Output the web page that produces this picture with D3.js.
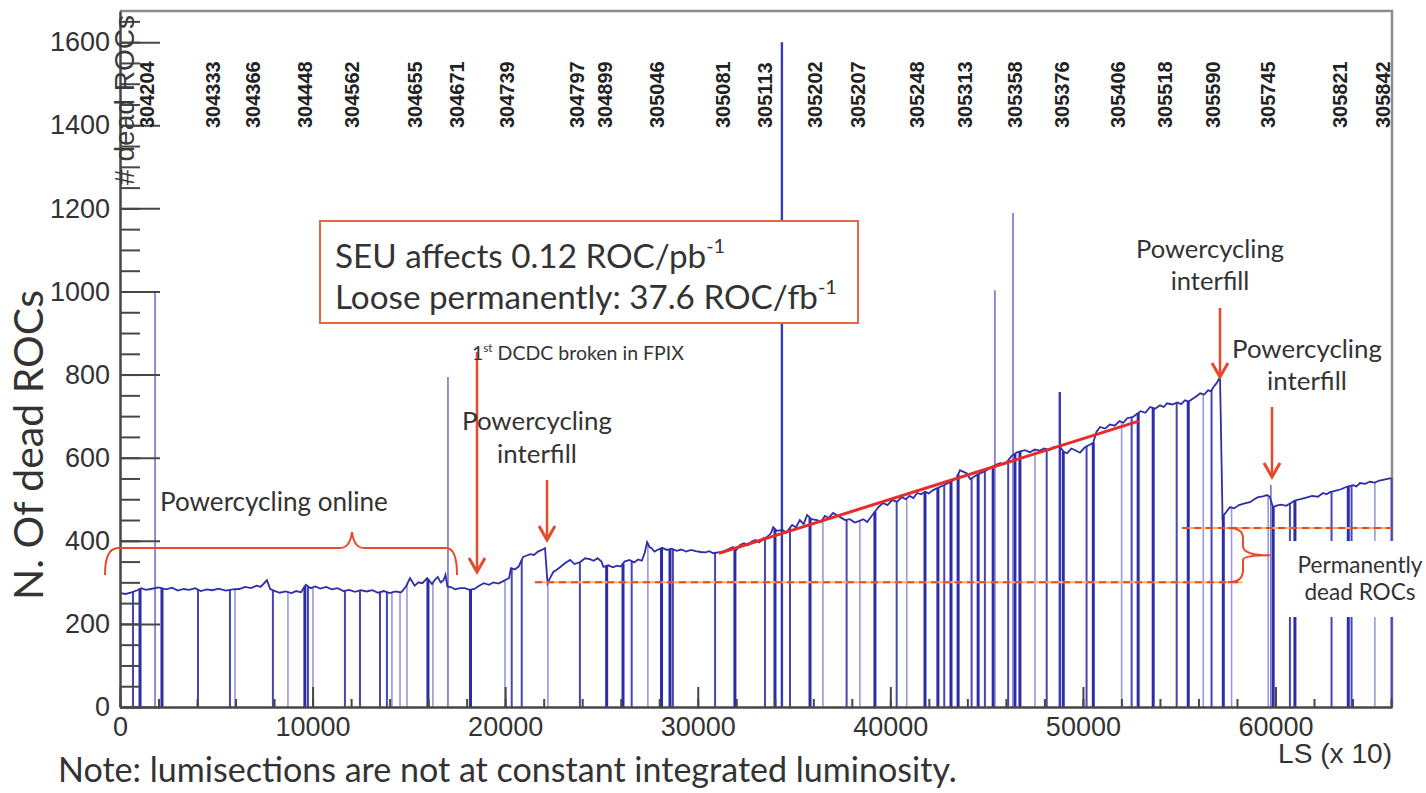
<!DOCTYPE html>
<html>
<head>
<meta charset="utf-8">
<script src="https://cdn.jsdelivr.net/npm/d3@7/dist/d3.min.js"></script>
<style>
	body { margin: 0; background: #fff; }
	svg { display: block; }
</style>
</head>
<body>
<div id="wrapper"></div>
<script>
// run numbers printed along the top, with the LS where each run starts
const runLabels = [ '304204', '304333', '304366', '304448', '304562', '304655', '304671', '304739', '304797', '304899',
	'305046', '305081', '305113', '305202', '305207', '305248', '305313', '305358', '305376', '305406', '305518',
	'305590', '305745', '305821', '305842' ];
const runStarts = [ 1400, 4830, 6900, 9600, 12050, 15300, 17500, 20100, 23730, 25180, 27880, 31300, 33490, 36090, 38320,
	41380, 43870, 46470, 48910, 51820, 54260, 56750, 59600, 63340, 65580 ];

// number of dead ROCs, [LS, value]
const levels = [
	[0, 274], [300, 272], [600, 276], [900, 281], [1100, 286], [1350, 282], [1600, 284], [2000, 288], [2400, 283],
	[2700, 287], [3000, 280], [3300, 284], [3600, 282], [3900, 286], [4200, 279], [4500, 283], [4800, 281], [5100, 285],
	[5500, 280], [5850, 283], [6200, 284], [6500, 289], [6800, 286], [7100, 292], [7300, 289], [7630, 305], [7800, 284],
	[8050, 279], [8300, 275], [8600, 278], [8900, 274], [9150, 279], [9400, 276], [9650, 294], [9900, 286], [10150, 290],
	[10400, 285], [10700, 289], [11000, 283], [11300, 286], [11600, 279], [11900, 282], [12200, 277], [12500, 281],
	[12800, 278], [13100, 281], [13400, 275], [13700, 279], [14000, 274], [14300, 278], [14600, 276], [14850, 290],
	[15060, 310], [15300, 292], [15500, 300], [15700, 298], [15950, 310], [16200, 296], [16350, 306], [16500, 313],
	[16650, 300], [16800, 305], [16900, 318], [17000, 290], [17200, 288], [17400, 283], [17650, 286], [17900, 286],
	[18150, 282], [18400, 284], [18650, 292], [18900, 298], [19150, 294], [19400, 300], [19650, 297], [19900, 303],
	[20050, 307], [20200, 310], [20300, 334], [20500, 331], [20700, 338], [20930, 361], [21100, 364], [21300, 368],
	[21500, 366], [21700, 374], [21900, 378], [22070, 382],
	[22200, 298], [22350, 312], [22500, 325], [22700, 331], [22900, 338], [23100, 346], [23370, 354], [23600, 344],
	[23900, 349], [24150, 358], [24400, 356], [24600, 352], [24800, 358], [25000, 350], [25100, 337], [25350, 341],
	[25600, 336], [25800, 340], [26000, 338], [26200, 350], [26450, 354], [26700, 348], [26900, 355], [27100, 352],
	[27250, 372], [27370, 397], [27500, 385], [27600, 382], [27750, 374], [27900, 378], [28150, 383], [28400, 378],
	[28650, 381], [28900, 376], [29150, 379], [29400, 374], [29650, 378], [29900, 375], [30150, 373], [30400, 372],
	[30600, 375], [30800, 370], [31050, 372],
	[31300, 373], [31600, 380], [31830, 385], [32000, 378], [32200, 390], [32400, 394], [32600, 389], [32800, 398],
	[33000, 402], [33200, 396], [33400, 406], [33600, 409], [33800, 418], [33920, 433], [34100, 424], [34400, 426],
	[34600, 420], [34900, 438], [35100, 432], [35300, 450], [35500, 440], [35680, 462], [35900, 452], [36200, 450],
	[36400, 445], [36600, 460], [36800, 455], [37030, 467], [37200, 462], [37400, 457], [37650, 450], [37900, 452],
	[38150, 444], [38400, 448], [38600, 452], [38800, 445], [39000, 458], [39200, 470], [39400, 482], [39620, 491],
	[39850, 486], [40100, 498], [40350, 494], [40600, 505], [40800, 500], [41000, 508], [41200, 503], [41390, 515],
	[41600, 512], [41800, 518], [42000, 514], [42220, 522], [42450, 527], [42700, 532], [42950, 538], [43260, 546],
	[43450, 552], [43620, 570], [43800, 566], [43980, 562], [44150, 548], [44300, 553], [44550, 560], [44800, 565],
	[45000, 570], [45200, 575], [45450, 582], [45700, 587], [45900, 584], [46060, 590], [46300, 604], [46580, 613],
	[46800, 616], [47000, 618], [47250, 613], [47500, 620], [47750, 617], [48000, 622], [48250, 618], [48500, 626],
	[48810, 626], [49000, 614], [49180, 611], [49400, 622], [49600, 618], [49850, 612], [50100, 625], [50300, 630],
	[50530, 635], [50700, 662], [50890, 674], [51150, 670], [51400, 680], [51650, 677], [51900, 688], [52100, 684],
	[52300, 695], [52600, 698], [52800, 705], [53000, 712], [53250, 708], [53490, 722], [53750, 718], [54000, 726],
	[54200, 722], [54370, 731], [54650, 728], [54900, 733], [55100, 729], [55300, 738], [55500, 735], [55700, 742],
	[55900, 748], [56090, 755], [56300, 752], [56500, 762], [56650, 760], [56780, 770], [56950, 780], [57120, 794],
	[57250, 457], [57450, 470], [57640, 481], [57850, 478], [58100, 486], [58400, 490], [58680, 493], [58900, 500],
	[59100, 505], [59350, 507], [59560, 510], [59700, 506], [59870, 481], [60100, 485], [60300, 487], [60550, 484],
	[60760, 490], [61000, 497], [61300, 500], [61600, 504], [61900, 508], [62200, 506], [62470, 515], [62650, 512],
	[62830, 517], [63100, 520], [63400, 524], [63700, 530], [64030, 534], [64200, 531], [64390, 539], [64650, 537],
	[64900, 542], [65150, 540], [65400, 545], [65700, 548], [66000, 551]
];

// LS where the count drops to zero, [LS, weight 1 faint / 2 normal / 3 heavy]
const dropouts = [
	[675, 2], [1040, 3], [2180, 3], [4050, 2], [5710, 2], [5970, 1], [7940, 2], [8720, 1], [9600, 3], [9760, 2],
	[10020, 1], [11680, 2], [12460, 2], [13500, 2], [13860, 2], [14120, 1], [14540, 1], [14900, 1], [15990, 3],
	[16250, 1], [18200, 3], [19990, 1], [20340, 2], [20860, 2], [22220, 1], [23880, 2], [25270, 3], [26120, 3],
	[26570, 2], [27410, 1], [28120, 3], [28560, 3], [28710, 2], [30900, 2], [31930, 3], [33490, 2], [34010, 3],
	[34790, 2], [35830, 3], [36500, 1], [37730, 2], [38420, 1], [39200, 3], [40330, 2], [40850, 1], [41800, 3],
	[42470, 3], [42800, 2], [43150, 3], [43520, 3], [44220, 2], [44560, 3], [44910, 2], [45340, 3], [46120, 2],
	[46470, 3], [46730, 3], [47510, 1], [48120, 2], [48980, 3], [50190, 2], [50540, 3], [52010, 1], [52530, 2],
	[52870, 3], [53650, 3], [54870, 2], [55470, 3], [56250, 1], [56680, 2], [57290, 3], [57720, 1], [59620, 1],
	[59880, 3], [60750, 2], [61010, 3], [62910, 2], [63780, 3], [63950, 2], [65160, 1], [66030, 2]
];

// single LS with a very high count, [LS, value, weight]
const spikes = [
	[1820, 1000, 1], [17030, 794, 1], [34370, 1600, 3], [45430, 1003, 1], [46370, 1189, 1], [48800, 758, 2], [59760, 534, 1]
];

const fitLine = [ [31100, 370], [52900, 688] ];
const dashedLow = [ [21550, 300], [58300, 300] ];
const dashedHigh = [ [55150, 431], [66050, 431] ];

const xTickValues = [ 0, 10000, 20000, 30000, 40000, 50000, 60000 ];
const yTickValues = [ 0, 200, 400, 600, 800, 1000, 1200, 1400, 1600 ];

const dimensions = {
	width: 1426,
	height: 793,
	margin: { top: 11, right: 34, bottom: 86, left: 120 }
};

const calibri = "Lato, 'Open Sans', sans-serif";
const helv = "'Liberation Sans', Arial, sans-serif";
const red = '#e8492a';

function fitText(sel, target) {
	const size = parseFloat(sel.attr('font-size'));
	const len = sel.node().getComputedTextLength();
	sel.attr('font-size', size * target / len);
	return size * target / len;
}

function drawChart() {
	const x = d3.scaleLinear().domain([ 0, 66050 ]).range([ dimensions.margin.left, dimensions.width - dimensions.margin.right ]);
	const y = d3.scaleLinear().domain([ 0, 1675 ]).range([ dimensions.height - dimensions.margin.bottom, dimensions.margin.top ]);
	const levelAt = d3.scaleLinear().domain(levels.map((d) => d[0])).range(levels.map((d) => d[1]));

	const svg = d3.select('#wrapper').append('svg').attr('width', dimensions.width).attr('height', dimensions.height);
	const x0 = x.range()[0], x1 = x.range()[1], yb = y.range()[0], yt = y.range()[1];

	// frame
	svg.append('path')
		.attr('d', `M${x0},${yt}H${x1}V${yb}`)
		.attr('fill', 'none').attr('stroke', '#8c8c8c').attr('stroke-width', 2.5);

	// data: dropouts, spikes, level line
	const weightColor = { 1: '#9898d8', 2: '#4646b4', 3: '#2c2ca6' };
	const weightWidth = { 1: 1.6, 2: 2, 3: 3 };
	svg.append('g').selectAll('line').data(dropouts).join('line')
		.attr('x1', (d) => x(d[0])).attr('x2', (d) => x(d[0]))
		.attr('y1', y(0)).attr('y2', (d) => y(levelAt(d[0])))
		.attr('stroke', (d) => weightColor[d[1]]).attr('stroke-width', (d) => weightWidth[d[1]]);
	svg.append('g').selectAll('line').data(spikes).join('line')
		.attr('x1', (d) => x(d[0])).attr('x2', (d) => x(d[0]))
		.attr('y1', y(0)).attr('y2', (d) => y(d[1]))
		.attr('stroke', (d) => d[2] === 1 ? '#7272c8' : '#3a3ab0').attr('stroke-width', (d) => d[2] === 1 ? 1.6 : 2.4);

	const line = d3.line().x((d) => x(d[0])).y((d) => y(d[1]));
	svg.append('path').datum(levels).attr('d', line)
		.attr('fill', 'none').attr('stroke', '#2e2ea6').attr('stroke-width', 1.8);

	// dashed reference levels and fit
	[ dashedLow, dashedHigh ].forEach((seg) => {
		svg.append('path').datum(seg).attr('d', line).attr('stroke', '#f5b46a').attr('stroke-width', 2);
		svg.append('path').datum(seg).attr('d', line).attr('stroke', red).attr('stroke-width', 2).attr('stroke-dasharray', '7,5');
	});
	svg.append('path').datum(fitLine).attr('d', line).attr('stroke', '#e82a2a').attr('stroke-width', 3);

	// axes
	svg.append('g').attr('transform', `translate(${x0},0)`)
		.call(d3.axisLeft(y).tickValues(d3.range(0, 1651, 50)).tickSize(-20).tickSizeOuter(0).tickFormat(''));
	svg.append('g').attr('transform', `translate(${x0},0)`)
		.call(d3.axisLeft(y).tickValues(yTickValues).tickSize(-40).tickSizeOuter(0).tickPadding(10).tickFormat(d3.format('d')));
	svg.append('g').attr('transform', `translate(0,${yb})`)
		.call(d3.axisBottom(x).tickValues(d3.range(0, 66001, 2000)).tickSize(-8).tickSizeOuter(0).tickFormat(''));
	svg.append('g').attr('transform', `translate(0,${yb})`)
		.call(d3.axisBottom(x).tickValues(xTickValues).tickSize(-20).tickSizeOuter(0).tickPadding(10).tickFormat(d3.format('d')));
	svg.selectAll('.domain, .tick line').attr('stroke', '#474747').attr('stroke-width', 2);
	svg.selectAll('.tick text').attr('font-family', helv).attr('font-size', 27).attr('fill', '#333');

	// run labels
	svg.append('g').selectAll('text').data(runLabels).join('text')
		.attr('transform', (d, i) => `translate(${x(runStarts[i]) + 7},128) rotate(-90)`)
		.attr('font-family', helv).attr('font-weight', 'bold').attr('font-size', 20).attr('fill', '#222')
		.text((d) => d);

	// axis titles
	const yt1 = svg.append('text').attr('transform', 'translate(134,15) rotate(-90)')
		.attr('text-anchor', 'end').attr('font-family', helv).attr('font-size', 26).attr('fill', '#3a3a3a')
		.text('# dead ROCs');
	fitText(yt1, 170);
	const yt2 = svg.append('text').attr('transform', 'translate(43,445) rotate(-90)')
		.attr('text-anchor', 'middle').attr('font-family', calibri).attr('font-size', 30).attr('fill', '#333')
		.text('N. Of dead ROCs');
	fitText(yt2, 310);
	const xt = svg.append('text').attr('x', x1).attr('y', 763).attr('text-anchor', 'end')
		.attr('font-family', helv).attr('font-size', 27).attr('fill', '#333').text('LS (x 10)');
	fitText(xt, 114);
	const note = svg.append('text').attr('x', 58).attr('y', 782)
		.attr('font-family', calibri).attr('font-size', 30).attr('fill', '#333')
		.text('Note: lumisections are not at constant integrated luminosity.');
	fitText(note, 899);

	// SEU box
	svg.append('rect').attr('x', 320).attr('y', 221).attr('width', 538).attr('height', 102)
		.attr('fill', '#fff').attr('stroke', '#e2683f').attr('stroke-width', 2);
	const l2 = svg.append('text').attr('x', 335).attr('y', 309).attr('font-family', calibri).attr('font-size', 30).attr('fill', '#333');
	l2.append('tspan').text('Loose permanently: 37.6 ROC/fb');
	l2.append('tspan').attr('dy', '-0.75em').style('font-size', '0.6em').text('-1');
	const boxSize = fitText(l2, 502);
	const l1 = svg.append('text').attr('x', 335).attr('y', 268).attr('font-family', calibri).attr('font-size', boxSize).attr('fill', '#333');
	l1.append('tspan').text('SEU affects 0.12 ROC/pb');
	l1.append('tspan').attr('dy', '-0.75em').style('font-size', '0.6em').text('-1');

	// arrows
	const arrows = [ [ 477, 352, 572 ], [ 547, 480, 540 ], [ 1220, 308, 377 ], [ 1272, 407, 477 ] ];
	arrows.forEach(([ ax, ay0, ay1 ]) => {
		svg.append('line').attr('x1', ax).attr('x2', ax).attr('y1', ay0).attr('y2', ay1 - 1)
			.attr('stroke', red).attr('stroke-width', 2.5);
		svg.append('path').attr('d', `M${ax - 8},${ay1 - 14}L${ax},${ay1}L${ax + 8},${ay1 - 14}`)
			.attr('fill', 'none').attr('stroke', red).attr('stroke-width', 3);
	});

	// braces
	svg.append('path')
		.attr('d', 'M105,575 Q105,548 118,548 H340 Q350,548 352,532 Q354,548 364,548 H446 Q457,548 457,575')
		.attr('fill', 'none').attr('stroke', red).attr('stroke-width', 2);
	svg.append('path')
		.attr('d', `M1228,${y(300)} Q1243,${y(300)} 1243,${y(300) - 12} V560 Q1243,${y(365)} 1270,${y(365)} Q1243,${y(365)} 1243,546 V${y(431) + 10} Q1243,${y(431)} 1228,${y(431)}`)
		.attr('fill', 'none').attr('stroke', red).attr('stroke-width', 2);

	// labels
	const label = (txt, cx, by, size, anchor) => svg.append('text').attr('x', cx).attr('y', by)
		.attr('text-anchor', anchor || 'middle').attr('font-family', calibri).attr('font-size', size).attr('fill', '#333').text(txt);
	let s = fitText(label('Powercycling', 537, 430, 26), 150);
	label('interfill', 537, 463, s);
	s = fitText(label('Powercycling', 1210, 258, 26), 148);
	label('interfill', 1210, 290, s);
	s = fitText(label('Powercycling', 1307, 358, 26), 150);
	label('interfill', 1307, 390, s);
	fitText(label('Powercycling online', 160, 511, 26, 'start'), 228);

	const dc = svg.append('text').attr('x', 472).attr('y', 360).attr('font-family', calibri).attr('font-size', 20).attr('fill', '#333');
	dc.append('tspan').text('1');
	dc.append('tspan').attr('dy', '-0.7em').style('font-size', '0.6em').text('st');
	dc.append('tspan').attr('dy', '0.42em').text(' DCDC broken in FPIX');
	fitText(dc, 212);

	svg.append('rect').attr('x', 1276).attr('y', 541).attr('width', 150).attr('height', 76).attr('fill', '#fff');
	s = fitText(label('Permanently', 1360, 573, 22), 125);
	label('dead ROCs', 1360, 600, s);
}
drawChart();
</script>
</body>
</html>
